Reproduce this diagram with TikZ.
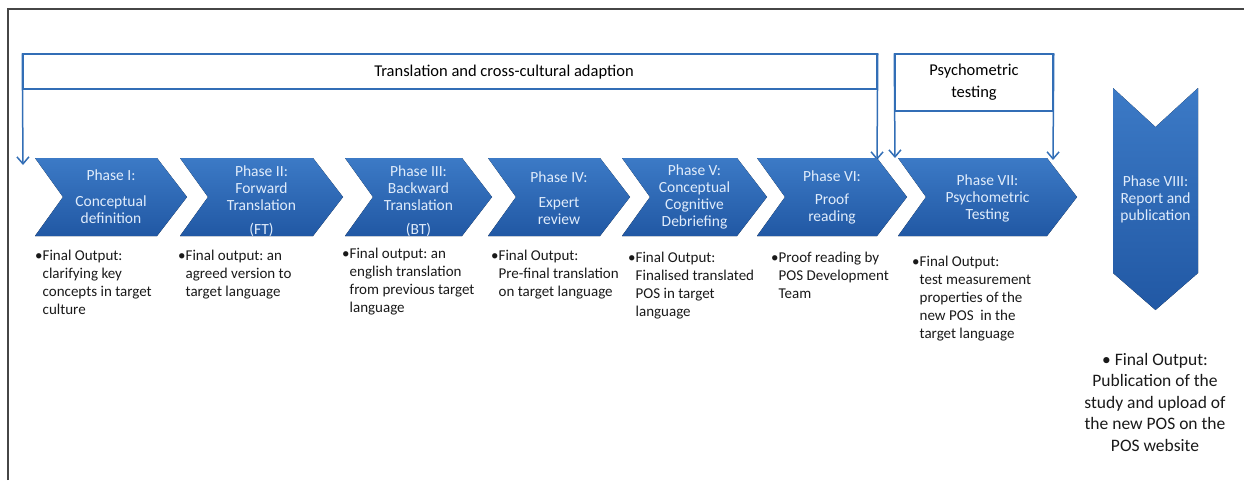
\documentclass[tikz,border=0pt]{standalone}
\usepackage{fontspec}
\setmainfont{Carlito}
\usepackage{tikz}
\usetikzlibrary{arrows.meta}
\frenchspacing

\definecolor{chevtop}{RGB}{60,122,198}
\definecolor{chevbot}{RGB}{33,88,164}
\definecolor{lineblue}{RGB}{50,110,182}
\definecolor{chevtext}{RGB}{224,236,251}
\definecolor{framegray}{RGB}{70,70,70}

\tikzset{
  chev/.style={top color=chevtop, bottom color=chevbot},
  chevtxt/.style={text=chevtext, align=center, inner sep=0pt, font=\fontsize{15.5}{17}\selectfont},
  outtxt/.style={anchor=base west, inner sep=0pt, text=black!90, font=\fontsize{15}{18}\selectfont},
  hdrbox/.style={draw=lineblue, line width=1.5pt, inner sep=0pt},
  arr/.style={lineblue, line width=1.5pt, -{Straight Barb[length=7pt,width=12pt]}}
}

\begin{document}
\begin{tikzpicture}[x=1pt,y=-1pt]
        \useasboundingbox (0,0) rectangle (1244,480);
        \draw[framegray, line width=1.5pt] (8,480) -- (8,9) -- (1244,9);

        \node[hdrbox, minimum width=854pt, minimum height=35pt] (trans) at (450,71.5) {};
        \node[font=\fontsize{16.5}{20}\selectfont] (translbl) at (504,72) {Translation and cross-cultural adaption};
        \node[hdrbox, minimum width=158pt, minimum height=57pt, align=center, font=\fontsize{16.5}{22}\selectfont] (psych) at (974,82.5) {Psychometric\\testing};

        \coordinate (a1) at (23,165);
        \coordinate (a2) at (877,160);
        \coordinate (a3) at (895,158);
        \coordinate (a4) at (1053,160);
        \draw[arr] (trans.north west) -- (a1);
        \draw[arr] (trans.north east) -- (a2);
        \draw[arr] (psych.north west) -- (a3);
        \draw[arr] (psych.north east) -- (a4);

        \fill[chev] (35,158) -- (157,158) -- (187,197) -- (157,236) -- (35,236) -- (63,197) -- cycle;
        \fill[chev] (180,158) -- (313,158) -- (343,197) -- (313,236) -- (180,236) -- (208,197) -- cycle;
        \fill[chev] (345,158) -- (462,158) -- (492,197) -- (462,236) -- (345,236) -- (373,197) -- cycle;
        \fill[chev] (488,158) -- (600,158) -- (630,197) -- (600,236) -- (488,236) -- (516,197) -- cycle;
        \fill[chev] (622,158) -- (737,158) -- (767,197) -- (737,236) -- (622,236) -- (650,197) -- cycle;
        \fill[chev] (757,158) -- (877,158) -- (907,197) -- (877,236) -- (757,236) -- (785,197) -- cycle;
        \fill[chev] (898,158) -- (1047,158) -- (1077,197) -- (1047,236) -- (898,236) -- (926,197) -- cycle;
        \fill[chev] (1113,88) -- (1155.5,127) -- (1198,88) -- (1198,273) -- (1155.5,310) -- (1113,273) -- cycle;

        \node[chevtxt] (p1) at (111,196.5) {Phase I:\\[9pt]Conceptual\\definition};
        \node[chevtxt] (p2) at (261.5,201) {Phase II:\\Forward\\Translation\\[7pt](FT)};
        \node[chevtxt] (p3) at (418.5,201) {Phase III:\\Backward\\Translation\\[7pt](BT)};
        \node[chevtxt] (p4) at (559,198) {Phase IV:\\[8pt]Expert\\review};
        \node[chevtxt] (p5) at (694.5,197) {Phase V:\\Conceptual\\Cognitive\\Debriefing};
        \node[chevtxt] (p6) at (832,197.5) {Phase VI:\\[6pt]Proof\\reading};
        \node[chevtxt] (p7) at (987.5,198) {Phase VII:\\Psychometric\\Testing};
        \node[chevtxt] (p8) at (1155.5,199) {Phase VIII:\\Report and\\publication};

        \node[outtxt] (o1) at (35,260) {\textbullet\begin{tabular}[t]{@{}l@{}}Final Output:\\clarifying key\\concepts in target\\culture\end{tabular}};
        \node[outtxt] (o2) at (178,260) {\textbullet\begin{tabular}[t]{@{}l@{}}Final output: an\\agreed version to\\target language\end{tabular}};
        \node[outtxt] (o3) at (342,258) {\textbullet\begin{tabular}[t]{@{}l@{}}Final output: an\\english translation\\from previous target\\language\end{tabular}};
        \node[outtxt] (o4) at (491,260) {\textbullet\begin{tabular}[t]{@{}l@{}}Final Output:\\Pre-final translation\\on target language\end{tabular}};
        \node[outtxt] (o5) at (628,262) {\textbullet\begin{tabular}[t]{@{}l@{}}Final Output:\\Finalised translated\\POS in target\\language\end{tabular}};
        \node[outtxt] (o6) at (771,262) {\textbullet\begin{tabular}[t]{@{}l@{}}Proof reading by\\POS Development\\Team\end{tabular}};
        \node[outtxt] (o7) at (912,266) {\textbullet\begin{tabular}[t]{@{}l@{}}Final Output:\\test measurement\\properties of the\\new POS\ \ in the\\target language\end{tabular}};
        \node[anchor=base, inner sep=0pt, text=black!90, font=\fontsize{17.5}{21.5}\selectfont] (o8) at (1155,365) {\begin{tabular}[t]{@{}c@{}}\textbullet{} Final Output:\\Publication of the\\study and upload of\\the new POS on the\\POS website\end{tabular}};
    \end{tikzpicture}
\end{document}
